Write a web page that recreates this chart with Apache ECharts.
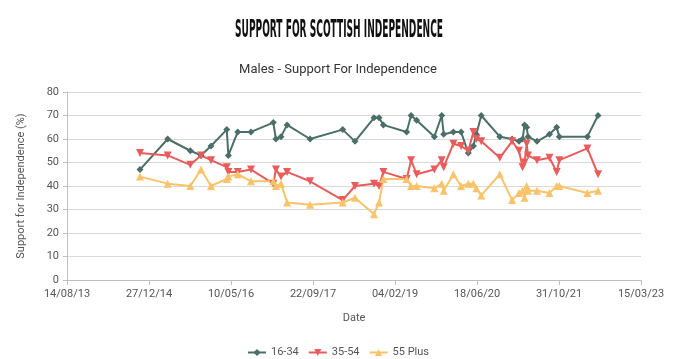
<!DOCTYPE html>
<html><head><meta charset="utf-8">
<script src="https://cdn.jsdelivr.net/npm/echarts@6/dist/echarts.min.js"></script>
<style>html,body{margin:0;padding:0;background:#fff}#c{width:676px;height:359px}</style>
</head><body><div id="c"></div>
<script>
// ---- data ----
const pollDates = ['2014-11-02','2015-04-20','2015-09-05','2015-11-09','2016-01-09','2016-04-14','2016-04-24','2016-06-20','2016-09-09','2017-01-23','2017-02-08','2017-03-11','2017-04-17','2017-09-04','2018-03-22','2018-06-05','2018-09-29','2018-10-30','2018-11-25','2019-04-16','2019-05-13','2019-06-16','2019-10-02','2019-11-16','2019-11-28','2020-01-26','2020-03-13','2020-04-26','2020-05-27','2020-06-14','2020-07-14','2020-11-04','2021-01-18','2021-03-01','2021-03-23','2021-04-04','2021-04-17','2021-04-25','2021-06-19','2021-09-03','2021-10-17','2021-11-02','2022-04-22','2022-06-26'];
const age16to34 = [47,60,55,53,57,64,53,63,63,67,60,61,66,60,64,59,69,69,66,63,70,68,61,70,62,63,63,54,57,62,70,61,60,59,60,66,65,61,59,62,65,61,61,70];
const age35to54 = [54,53,49,53,51,48,46,46,47,41,47,44,46,42,34,40,41,40,46,43,51,45,47,51,48,58,57,55,63,60,59,52,59,55,48,50,58,53,51,52,46,51,56,45];
const age55plus = [44,41,40,47,40,43,44,45,42,42,40,41,33,32,33,35,28,33,43,43,40,40,39,41,38,45,40,41,41,39,36,45,34,37,38,35,40,38,38,37,40,40,37,38];
const seriesNames = ['16-34','35-54','55 Plus'];
const xTickLabels = ['14/08/13','27/12/14','10/05/16','22/09/17','04/02/19','18/06/20','31/10/21','15/03/23'];
const axisOrigin = '2013-08-14';
const tickStepDays = 500;

function dayOffset(s){
  const a = s.split('-').map(Number), b = axisOrigin.split('-').map(Number);
  return (Date.UTC(a[0],a[1]-1,a[2]) - Date.UTC(b[0],b[1]-1,b[2]))/86400000;
}
const xs = pollDates.map(dayOffset);
const pairs = arr => arr.map((v,i)=>[xs[i], v]);

const titleText = 'SUPPORT FOR SCOTTISH INDEPENDENCE';
const titleFont = 'bold 24px "DejaVu Sans Condensed"';
const ctx = document.createElement('canvas').getContext('2d');
ctx.font = titleFont;
const tw = ctx.measureText(titleText).width;
const sx = 208 / tw;

const labelFont = 'Roboto';
const chart = echarts.init(document.getElementById('c'), null, {renderer:'canvas'});
chart.setOption({
  animation:false,
  backgroundColor:'#ffffff',
  title:{text:'Males - Support For Independence', left:'center', top:58,
    textStyle:{fontFamily:labelFont, fontSize:13, fontWeight:'normal', color:'#333333'}},
  graphic:[{type:'text', x:339, y:31, scaleX:sx, scaleY:1,
    style:{text:titleText, font:titleFont, fill:'#111111', textAlign:'center', textVerticalAlign:'middle'}}],
  grid:{left:67, right:35, top:92, bottom:79},
  legend:{top:342, left:'center', itemWidth:18, itemHeight:9, itemGap:9,
    textStyle:{fontFamily:labelFont, fontSize:11, color:'#555555'},
    data:seriesNames},
  xAxis:{type:'value', min:0, max:(xTickLabels.length-1)*tickStepDays, interval:tickStepDays,
    name:'Date', nameLocation:'middle', nameGap:33,
    nameTextStyle:{fontFamily:labelFont, fontSize:11, color:'#555555'},
    axisLine:{show:true, lineStyle:{color:'#bfbfbf'}},
    axisTick:{show:true, length:5, lineStyle:{color:'#bfbfbf'}},
    axisLabel:{margin:9, fontFamily:labelFont, fontSize:11, color:'#555555',
      formatter:v=>xTickLabels[Math.round(v/tickStepDays)]},
    splitLine:{show:false}},
  yAxis:{type:'value', min:0, max:80, interval:10,
    name:'Support for Independence (%)', nameLocation:'middle', nameGap:40,
    nameTextStyle:{fontFamily:labelFont, fontSize:11, color:'#555555'},
    axisLine:{show:true, lineStyle:{color:'#bfbfbf'}},
    axisTick:{show:true, length:4, lineStyle:{color:'#bfbfbf'}},
    axisLabel:{margin:8, fontFamily:labelFont, fontSize:11, color:'#555555'},
    splitLine:{show:true, lineStyle:{color:'#d9d9d9', width:1}}},
  series:[
    {name:seriesNames[0], type:'line', data:pairs(age16to34), color:'#4b6f68',
      symbol:'diamond', symbolSize:7, lineStyle:{width:2}},
    {name:seriesNames[1], type:'line', data:pairs(age35to54), color:'#e95c5c',
      symbol:'triangle', symbolRotate:180, symbolSize:8, lineStyle:{width:2}},
    {name:seriesNames[2], type:'line', data:pairs(age55plus), color:'#f8c36a',
      symbol:'triangle', symbolSize:8, lineStyle:{width:2}}
  ]
});
</script></body></html>
